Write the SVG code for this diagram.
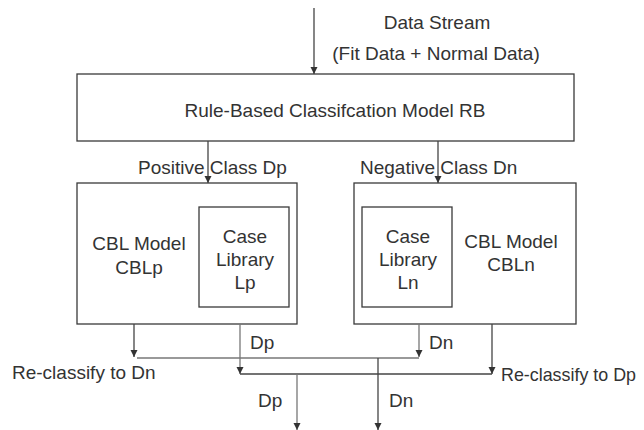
<svg xmlns="http://www.w3.org/2000/svg" width="644" height="430" viewBox="0 0 644 430">
<defs>
<style>
.box{fill:#fff;stroke:#3a3a3a;stroke-width:1.3}
.ln{fill:none;stroke:#444;stroke-width:1.3}
.lt{fill:none;stroke:#777;stroke-width:1.3}
text{font-family:"Liberation Sans",Arial,sans-serif;font-size:19px;fill:#333}
.c{text-anchor:middle}
</style>
<marker id="ah" viewBox="0 0 10 10" refX="10" refY="5" markerWidth="7" markerHeight="8" markerUnits="userSpaceOnUse" orient="auto">
<path d="M0,0 L10,5 L0,10 Z" fill="#333"/>
</marker>
</defs>
<rect width="644" height="430" fill="#fff"/>
<g id="input-label">
<text class="c" x="437" y="29">Data Stream</text>
<text class="c" x="436" y="60">(Fit Data + Normal Data)</text>
</g>
<g id="rb">
<rect class="box" x="77" y="74" width="497" height="67"/>
<text class="c" x="335" y="117">Rule-Based Classifcation Model RB</text>
</g>
<g id="cblp">
<rect class="box" x="77" y="183" width="220" height="141"/>
<text class="c" x="139" y="250">CBL Model</text>
<text class="c" x="139" y="274">CBLp</text>
</g>
<g id="lp">
<rect class="box" x="199" y="207" width="90" height="100"/>
<text class="c" x="245" y="243">Case</text>
<text class="c" x="245" y="266">Library</text>
<text class="c" x="245" y="289">Lp</text>
</g>
<g id="cbln">
<rect class="box" x="354" y="183" width="222" height="141"/>
<text class="c" x="511" y="248">CBL Model</text>
<text class="c" x="511" y="271">CBLn</text>
</g>
<g id="ln">
<rect class="box" x="362" y="207" width="90" height="100"/>
<text class="c" x="408" y="243">Case</text>
<text class="c" x="408" y="266">Library</text>
<text class="c" x="408" y="289">Ln</text>
</g>
<g id="connectors">
<line class="ln" x1="314" y1="8" x2="314" y2="74" marker-end="url(#ah)"/>
<line class="ln" x1="208" y1="141" x2="208" y2="183" marker-end="url(#ah)"/>
<line class="ln" x1="438" y1="141" x2="438" y2="183" marker-end="url(#ah)"/>
<line class="ln" x1="134" y1="324" x2="134" y2="357" marker-end="url(#ah)"/>
<line class="lt" x1="240" y1="324" x2="240" y2="374" marker-end="url(#ah)"/>
<line class="lt" x1="419" y1="324" x2="419" y2="357" marker-end="url(#ah)"/>
<line class="ln" x1="492" y1="324" x2="492" y2="374" marker-end="url(#ah)"/>
<line class="lt" x1="137" y1="358" x2="419" y2="358"/>
<line class="ln" x1="240" y1="374" x2="492" y2="374"/>
<line class="ln" x1="378" y1="358" x2="378" y2="430" marker-end="url(#ah)"/>
<line class="lt" x1="297" y1="374" x2="297" y2="430" marker-end="url(#ah)"/>
</g>
<g id="labels">
<text x="138" y="174">Positive Class Dp</text>
<text x="360" y="174">Negative Class Dn</text>
<text x="250" y="349">Dp</text>
<text x="429" y="349">Dn</text>
<text x="12" y="379">Re-classify to Dn</text>
<text x="501" y="381" textLength="135" lengthAdjust="spacingAndGlyphs">Re-classify to Dp</text>
<text x="258" y="407">Dp</text>
<text x="389" y="407">Dn</text>
</g>
</svg>
